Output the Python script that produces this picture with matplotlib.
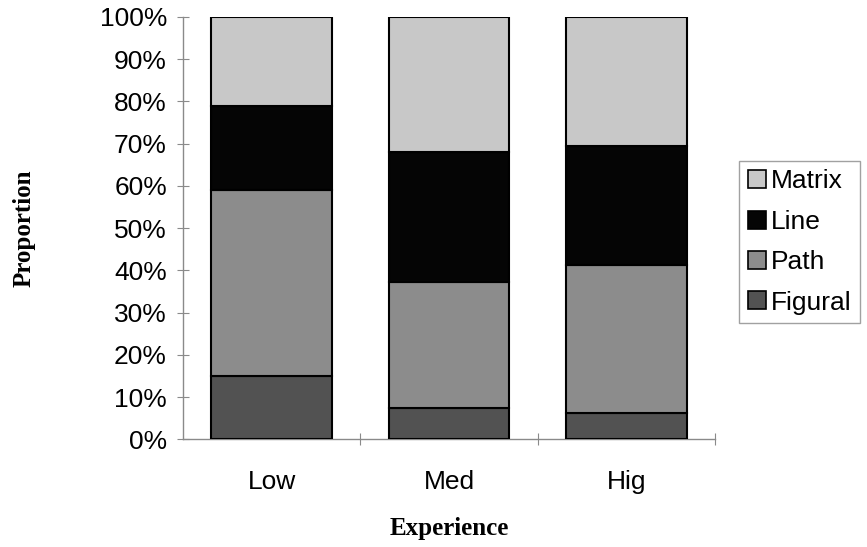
import numpy as np
import matplotlib.pyplot as plt
from matplotlib.ticker import PercentFormatter

# proportion of each representation type by experience level (%)
groups = ['Low', 'Med', 'Hig']
figural = [14.9, 7.3, 6.2]
path = [44.1, 29.9, 35.0]
line = [19.9, 30.8, 28.2]
matrix = [21.1, 32.0, 30.6]

series = [('Figural', figural, '#525252'),
          ('Path', path, '#8c8c8c'),
          ('Line', line, '#050505'),
          ('Matrix', matrix, '#c8c8c8')]

fig = plt.figure(figsize=(8.67, 5.47), dpi=100)
ax = fig.add_axes([0.211, 0.197, 0.614, 0.772])

x = np.arange(len(groups))
bottom = np.zeros(len(groups))
handles = []
for name, vals, col in series:
    b = ax.bar(x, vals, 0.68, bottom=bottom, color=col, edgecolor='black',
               linewidth=1.5, label=name, zorder=3)
    bottom += np.array(vals)
    handles.append(b)

ax.set_xlim(-0.5, 2.5)
ax.set_ylim(0, 100)
ax.set_yticks(np.arange(0, 101, 10))
ax.yaxis.set_major_formatter(PercentFormatter(decimals=0))
ax.set_xticks([0.5, 1.5, 2.5])
ax.set_xticklabels([])
ax.set_xticks(x, minor=True)
ax.set_xticklabels(groups, minor=True)

for s in ['top', 'right']:
    ax.spines[s].set_visible(False)
for s in ['left', 'bottom']:
    ax.spines[s].set_color('#8a8a8a')
    ax.spines[s].set_linewidth(1.0)

ax.tick_params(axis='y', which='major', direction='inout', length=9,
               color='#8a8a8a', labelsize=19, pad=7)
ax.tick_params(axis='x', which='major', direction='inout', length=9,
               color='#8a8a8a')
ax.tick_params(axis='x', which='minor', length=0, labelsize=19, pad=22)
for t in ax.get_yticklabels() + ax.get_xticklabels(minor=True):
    t.set_family('Liberation Sans')

ax.set_xlabel('Experience', family='Liberation Serif', fontweight='bold',
              fontsize=18, labelpad=17)
ax.set_ylabel('Proportion', family='Liberation Serif', fontweight='bold',
              fontsize=18, labelpad=46)

leg = ax.legend(handles[::-1], [s[0] for s in series][::-1],
                loc='center left', bbox_to_anchor=(1.045, 0.467),
                frameon=True, fancybox=False, edgecolor='#8a8a8a',
                prop={'family': 'Liberation Sans', 'size': 19},
                handlelength=0.68, handleheight=0.68, handletextpad=0.2,
                labelspacing=0.62, borderpad=0.33, borderaxespad=0.0)
for p in leg.get_patches():
    p.set_linewidth(1.2)

fig.savefig('out.png', dpi=100)
